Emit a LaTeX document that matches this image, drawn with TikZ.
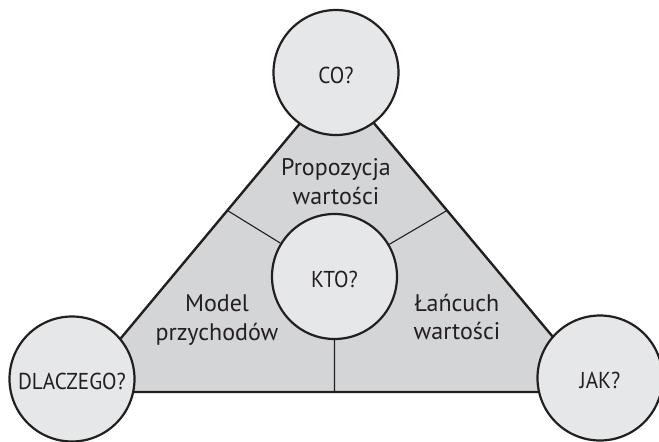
\documentclass[tikz,border=0pt]{standalone}
\usepackage{fontspec}
\setmainfont{PT Sans}
\newfontfamily\questionfont[FakeStretch=0.92]{PT Sans}
\usetikzlibrary{calc}

\definecolor{ink}{RGB}{35,31,32}
\definecolor{areagray}{RGB}{212,213,215}
\definecolor{bubblegray}{RGB}{230,231,232}

\tikzset{
  question/.style={circle, draw=ink, line width=2.2pt, fill=bubblegray,
    minimum size=125pt, inner sep=0pt, text=ink,
    font=\questionfont\fontsize{23}{27}\selectfont, text height=21pt, text depth=0pt},
  area/.style={align=center, text=ink},
  divider/.style={draw=ink, line width=1.1pt}
}

\begin{document}
\begin{tikzpicture}[x=1pt, y=-1pt, font=\fontsize{24}{28.5}\selectfont]
    \useasboundingbox (0,0) rectangle (659,442);

    \coordinate (apex) at (337, 79);
    \coordinate (left) at (76, 392);
    \coordinate (right) at (599, 392);

    \draw[ink, line width=2.4pt, fill=areagray]
      (apex) -- (left) -- (right) -- cycle
    ;

    \node[question] (kto) at (334.5, 276.5) {KTO?};

    \coordinate (cutl) at ($(apex)!0.42!(left)$);
    \coordinate (cutr) at ($(apex)!0.42!(right)$);
    \coordinate (cutb) at (kto |- left);

    \draw[divider]
      (kto) -- (cutl)
      (kto) -- (cutr)
      (kto) -- (cutb)
    ;

    \node[question] (co) at (336, 72.5) {CO?};
    \node[question] (dlaczego) at (72, 379) {DLACZEGO?};
    \node[question] (jak) at (600, 378) {JAK?};

    \node[area] (propozycja) at (336, 181.5) {Propozycja\\wartości};
    \node[area] (model) at (217, 320) {Model\\przychodów};
    \node[area] (lancuch) at (457, 317) {Łańcuch\\wartości};
  \end{tikzpicture}
\end{document}
